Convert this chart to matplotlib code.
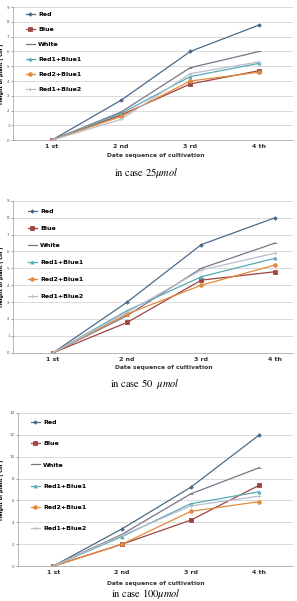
import matplotlib.pyplot as plt

# Dados (altura da planta em cm)
stages = ['1 st', '2 nd', '3 rd', '4 th']
labels = ['Red', 'Blue', 'White', 'Red1+Blue1', 'Red2+Blue1', 'Red1+Blue2']

# caso 25 umol
red_25 = [0, 2.7, 6.0, 7.8]
blue_25 = [0, 1.7, 3.8, 4.7]
white_25 = [0, 1.9, 4.9, 6.0]
r1b1_25 = [0, 1.8, 4.3, 5.2]
r2b1_25 = [0, 1.6, 4.0, 4.6]
r1b2_25 = [0, 1.4, 4.5, 5.3]

# caso 50 umol
red_50 = [0, 3.0, 6.4, 8.0]
blue_50 = [0, 1.8, 4.3, 4.8]
white_50 = [0, 2.2, 5.0, 6.5]
r1b1_50 = [0, 2.5, 4.5, 5.6]
r2b1_50 = [0, 2.3, 4.0, 5.2]
r1b2_50 = [0, 2.4, 4.9, 5.9]

# caso 100 umol
red_100 = [0, 3.4, 7.2, 12.0]
blue_100 = [0, 2.0, 4.2, 7.4]
white_100 = [0, 2.9, 6.6, 9.0]
r1b1_100 = [0, 2.7, 5.7, 6.8]
r2b1_100 = [0, 2.0, 5.0, 5.9]
r1b2_100 = [0, 2.8, 5.5, 6.4]

cores = ['#4d6a88', '#9e4444', '#7b7386', '#58a9b6', '#e2893a', '#b9bdcc']
marcadores = ['D', 's', '_', '^', 'o', '+']
tam = [1.8, 2.6, 3, 2.2, 2.6, 3]

plt.rcParams['mathtext.fontset'] = 'stix'

fig = plt.figure(figsize=(2.97, 6.01), dpi=100)

paineis = [
    # dados, rect, ylim, ystep, xlim, legend spacing, legend x/top, xlabel pos, caption, caption pos
    ([red_25, blue_25, white_25, r1b1_25, r2b1_25, r1b2_25],
     [0.044, 0.767, 0.943, 0.221], 9, 1, (-0.565, 3.49), 1.55, (22, 1.0), (156, 155),
     r'in case $25\mu mol$', (146, 173)),
    ([red_50, blue_50, white_50, r1b1_50, r2b1_50, r1b2_50],
     [0.044, 0.413, 0.943, 0.253], 9, 1, (-0.54, 3.24), 1.85, (24, 0.975), (164, 368),
     r'in case 50  $\mu mol$', (145, 384)),
    ([red_100, blue_100, white_100, r1b1_100, r2b1_100, r1b2_100],
     [0.061, 0.058, 0.926, 0.255], 14, 2, (-0.51, 3.49), 2.55, (27, 0.985), (156, 583),
     r'in case $100\mu mol$', (146, 594)),
]

for dados, rect, ymax, ystep, xlim, lsp, lpos, xlpos, caption, cpos in paineis:
    ax = fig.add_axes(rect)
    x = range(len(stages))
    for serie, lab, c, m, s in zip(dados, labels, cores, marcadores, tam):
        ax.plot(x, serie, color=c, marker=m, markersize=s, linewidth=0.9,
                markeredgewidth=0.6, label=lab)
    ax.set_xlim(*xlim)
    ax.set_ylim(0, ymax)
    ax.set_yticks(range(0, ymax + 1, ystep))
    ax.set_xticks(list(x))
    ax.set_xticklabels(stages, fontsize=4.5, fontweight='bold', color='#333333')
    ax.tick_params(axis='y', labelsize=3, length=1.5, width=0.4, pad=1, colors='#555555')
    ax.tick_params(axis='x', length=0, pad=3)
    ax.grid(axis='y', color='#d4d4d4', linewidth=0.6)
    ax.set_axisbelow(True)
    for lado in ['top', 'right']:
        ax.spines[lado].set_visible(False)
    ax.spines['left'].set_color('#999999')
    ax.spines['bottom'].set_color('#999999')
    ax.spines['left'].set_linewidth(0.5)
    ax.spines['bottom'].set_linewidth(0.5)
    ax.set_ylabel('Height of plant ( cm )', fontsize=3.6, fontweight='bold')
    esq = rect[0] * 297
    larg = rect[2] * 297
    ax.yaxis.set_label_coords(-(esq - 4) / larg, 0.5)
    ax.legend(loc='upper left', frameon=False, prop={'weight': 'bold', 'size': 4.5},
              labelspacing=lsp, handlelength=1.3, handletextpad=0.6, borderaxespad=0.3,
              bbox_to_anchor=((lpos[0] - esq) / larg, lpos[1]))
    fig.text(xlpos[0] / 297, 1 - xlpos[1] / 601, 'Date sequence of cultivation',
             fontsize=4.3, fontweight='bold', ha='center', va='center', color='#333333')
    fig.text(cpos[0] / 297, 1 - cpos[1] / 601, caption, fontsize=7.5,
             family='STIXGeneral', ha='center', va='center')

fig.savefig('out.png', dpi=100)
